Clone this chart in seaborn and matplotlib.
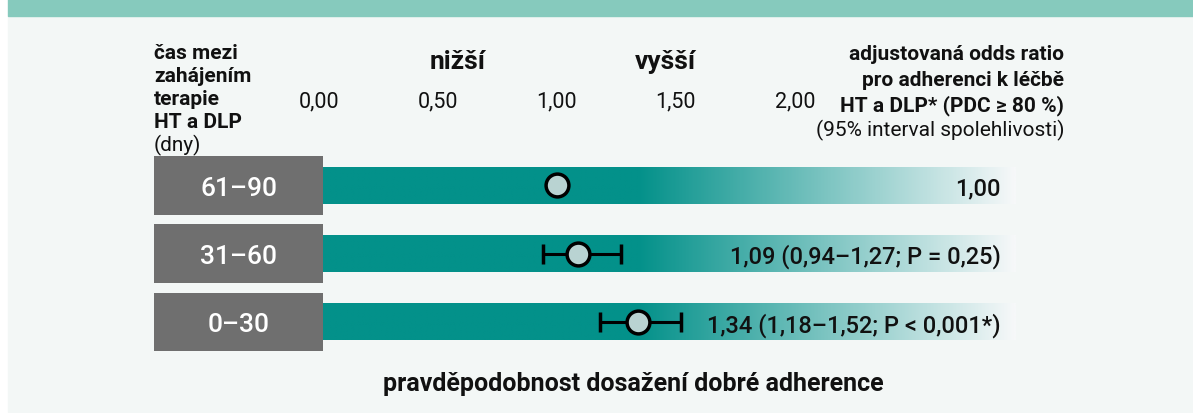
import numpy as np
import matplotlib.pyplot as plt
import seaborn as sns
from matplotlib.colors import LinearSegmentedColormap
from matplotlib.patches import Rectangle

# data
groups = ["61–90", "31–60", "0–30"]
odds_ratio = [1.00, 1.09, 1.34]
ci_low = [np.nan, 0.94, 1.18]
ci_high = [np.nan, 1.27, 1.52]
p_text = [None, "= 0,25", "< 0,001*"]
x_ticks = [0.0, 0.5, 1.0, 1.5, 2.0]

W, H = 1193, 414
TEAL = "#03918a"
BAND = "#86cabd"
PANEL = "#f3f7f6"
GRAY = "#6f6f6f"
FACE = "#b9d3d2"
INK = "#111111"


def cz(v):
    # czech decimal comma
    return f"{v:.2f}".replace(".", ",")


def px(x, y):
    return x / W, 1 - y / H


sns.set_theme(style="white")
plt.rcParams["font.family"] = ["Roboto", "DejaVu Sans"]

fig = plt.figure(figsize=(W / 100, H / 100), dpi=100)
fig.patch.set_facecolor("white")
# background panel and top band go under the axes
fig.patches.append(Rectangle((8 / W, 1 / H), 1 - 8 / W, 1 - 18 / H,
                             transform=fig.transFigure, color=PANEL, zorder=-2))
fig.patches.append(Rectangle((8 / W, 1 - 17 / H), 1 - 8 / W, 17 / H,
                             transform=fig.transFigure, color=BAND, zorder=-2))

# axes: x=0 at px 318.6, 238.2 px per unit; rows 68.2 px apart
ax = fig.add_axes([154 / W, 1 - 362 / H, 863 / W, 250 / H])
ax.set_facecolor("none")
xmin, xmax = -0.691, 2.932
pos = np.arange(len(groups))

bar_l, bar_r, fade_l = 0.0185, 2.924, 1.337
xs = np.linspace(bar_l, bar_r, 500)
fade = np.clip((xs - fade_l) / (bar_r - fade_l), 0, 1)[None, :]
cmap = LinearSegmentedColormap.from_list("fade", [TEAL, "#f6f8f9"])

for y, g in zip(pos, groups):
    ax.add_patch(Rectangle((xmin, y - 0.428), bar_l - xmin, 0.856,
                           color=GRAY, lw=0, zorder=1))
    ax.imshow(fade, cmap=cmap, vmin=0, vmax=1, aspect="auto",
              extent=(bar_l, bar_r, y + 0.269, y - 0.269),
              interpolation="bilinear", zorder=1)
    ax.annotate(g, ((xmin + bar_l) / 2, y), xytext=(0, -6.9),
                textcoords="offset points", ha="center", va="baseline",
                color="white", fontsize=19, fontweight="medium")

# confidence intervals (reference group has none)
lo = np.array(odds_ratio) - np.array(ci_low)
hi = np.array(ci_high) - np.array(odds_ratio)
mask = ~np.isnan(lo)
ax.errorbar(np.array(odds_ratio)[mask], pos[mask],
            xerr=[lo[mask], hi[mask]], fmt="none", ecolor="black",
            elinewidth=2.2, capsize=7.5, capthick=2.5, zorder=3)
sns.scatterplot(x=odds_ratio, y=pos, s=270, color=FACE, edgecolor="black",
                linewidth=2.5, zorder=4, ax=ax, legend=False)

for y, o, l, h, p in zip(pos, odds_ratio, ci_low, ci_high, p_text):
    txt = cz(o) if p is None else f"{cz(o)} ({cz(l)}–{cz(h)}; P {p})"
    ax.annotate(txt, (2.863, y), xytext=(0, -6.7), textcoords="offset points",
                ha="right", va="baseline", color=INK, fontsize=17,
                fontweight="medium", zorder=5)

ax.set_xlim(xmin, xmax)
ax.set_ylim(2.575, -1.091)
ax.xaxis.tick_top()
ax.set_xticks(x_ticks, [cz(t) for t in x_ticks])
ax.tick_params(axis="x", length=0, pad=0, labelsize=15.5, labelcolor=INK)
ax.set_yticks([])
ax.grid(False)
sns.despine(ax=ax, left=True, bottom=True, top=True, right=True)

# header texts
left_head = ["čas mezi", "zahájením", "terapie", "HT a DLP", "(dny)"]
for i, line in enumerate(left_head):
    fig.text(*px(154, 59 + 23 * i), line, ha="left", va="baseline",
             fontsize=15, color=INK,
             fontweight="bold" if i < 4 else "normal")

right_head = ["adjustovaná odds ratio", "pro adherenci k léčbě",
              "HT a DLP* (PDC ≥ 80 %)", "(95% interval spolehlivosti)"]
for i, line in enumerate(right_head):
    fig.text(*px(1064, 60 + 25.5 * i), line, ha="right", va="baseline",
             fontsize=15, color=INK,
             fontweight="bold" if i < 3 else "normal")

fig.text(*px(458, 69), "nižší", ha="center", va="baseline",
         fontsize=19, fontweight="bold", color=INK)
fig.text(*px(665, 69), "vyšší", ha="center", va="baseline",
         fontsize=19, fontweight="bold", color=INK)
fig.text(*px(633, 390.7), "pravděpodobnost dosažení dobré adherence",
         ha="center", va="baseline", fontsize=18, fontweight="bold", color=INK)

fig.savefig("out.png", dpi=100, facecolor=fig.get_facecolor())
